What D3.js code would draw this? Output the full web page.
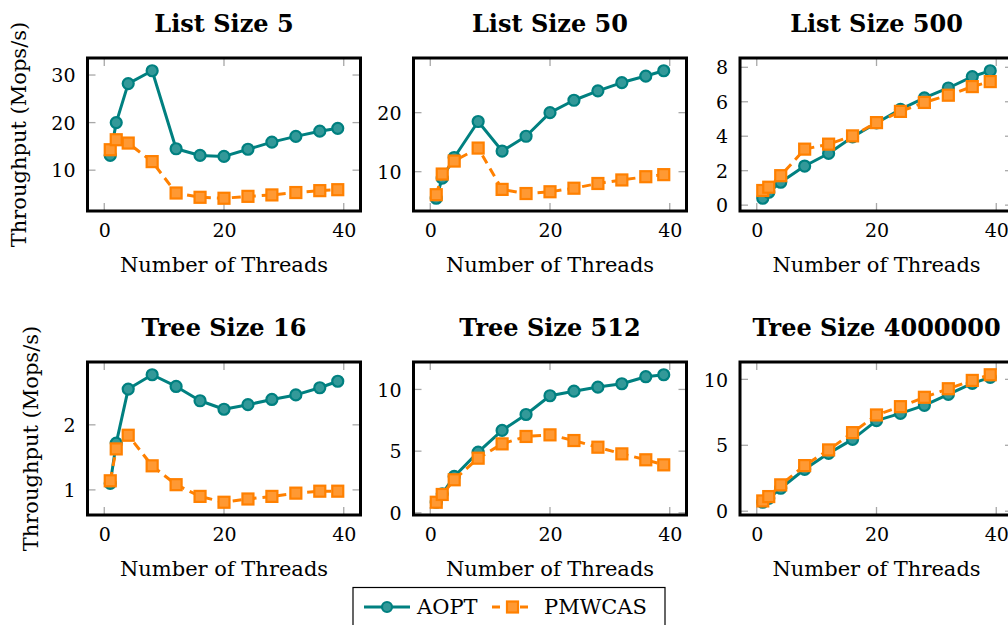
<!DOCTYPE html>
<html><head><meta charset="utf-8">
<script src="https://cdn.jsdelivr.net/npm/d3@7"></script>
<style>
html,body{margin:0;padding:0;background:#fff;overflow:hidden;}
svg{display:block;}
text{font-family:"DejaVu Serif",serif;fill:#000;}
</style></head>
<body>
<svg id="chart" width="1008" height="625"></svg>
<script>
// ---- data ----
const threads = [1, 2, 4, 8, 12, 16, 20, 24, 28, 32, 36, 39];
const xTicks = [0, 20, 40];

const list5Aopt   = [13.1, 20.0, 28.2, 30.9, 14.5, 13.1, 12.9, 14.4, 15.9, 17.1, 18.2, 18.8];
const list5Pmwcas = [14.3, 16.4, 15.7, 11.8, 5.2, 4.3, 4.1, 4.5, 4.8, 5.3, 5.7, 5.9];
const list50Aopt   = [5.5, 8.9, 12.4, 18.5, 13.5, 16.0, 20.0, 22.1, 23.7, 25.1, 26.2, 27.1];
const list50Pmwcas = [6.1, 9.6, 11.8, 14.0, 7.0, 6.3, 6.6, 7.2, 8.0, 8.6, 9.15, 9.5];
const list500Aopt   = [0.4, 0.75, 1.33, 2.27, 3.0, 3.96, 4.77, 5.56, 6.23, 6.8, 7.46, 7.8];
const list500Pmwcas = [0.85, 1.04, 1.71, 3.25, 3.54, 4.02, 4.79, 5.44, 5.96, 6.38, 6.88, 7.17];
const tree16Aopt   = [1.10, 1.72, 2.55, 2.77, 2.59, 2.37, 2.24, 2.31, 2.39, 2.46, 2.57, 2.67];
const tree16Pmwcas = [1.14, 1.63, 1.84, 1.37, 1.08, 0.90, 0.81, 0.86, 0.90, 0.95, 0.98, 0.98];
const tree512Aopt   = [0.86, 1.54, 2.95, 4.92, 6.68, 7.97, 9.49, 9.86, 10.19, 10.46, 11.03, 11.19];
const tree512Pmwcas = [0.86, 1.49, 2.68, 4.43, 5.59, 6.19, 6.32, 5.86, 5.32, 4.78, 4.30, 3.89];
const tree4mAopt   = [0.68, 0.98, 1.74, 3.18, 4.39, 5.45, 6.87, 7.42, 8.03, 8.86, 9.7, 10.15];
const tree4mPmwcas = [0.78, 1.11, 2.0, 3.46, 4.65, 5.96, 7.3, 7.93, 8.64, 9.29, 9.92, 10.35];

const titles = ["List Size 5", "List Size 50", "List Size 500", "Tree Size 16", "Tree Size 512", "Tree Size 4000000"];
const yTicks = [[10, 20, 30], [10, 20], [0, 2, 4, 6, 8], [1, 2], [0, 5, 10], [0, 5, 10]];
const aoptSeries = [list5Aopt, list50Aopt, list500Aopt, tree16Aopt, tree512Aopt, tree4mAopt];
const pmwcasSeries = [list5Pmwcas, list50Pmwcas, list500Pmwcas, tree16Pmwcas, tree512Pmwcas, tree4mPmwcas];
const seriesNames = ["AOPT", "PMWCAS"];
const xLabel = "Number of Threads";
const yLabel = "Throughput (Mops/s)";

// ---- styles ----
const teal = "#008080", tealFill = "#339999";
const orange = "#ff8000", orangeFill = "#ff9933";
const colLeft = [87.5, 413.5, 740];
const rowTop = [58, 362];
const W = 273, H = 153;

const svg = d3.select("#chart");

function enlarge(lo, hi) { const r = hi - lo; return [lo - 0.1 * r, hi + 0.1 * r]; }

for (let i = 0; i < 6; i++) {
  const col = i % 3, row = Math.floor(i / 3);
  const left = colLeft[col], top = rowTop[row];
  const g = svg.append("g").attr("transform", `translate(${left},${top})`);
  const a = aoptSeries[i], p = pmwcasSeries[i];
  const all = a.concat(p);
  const x = d3.scaleLinear().domain(enlarge(d3.min(threads), d3.max(threads))).range([0, W]);
  const y = d3.scaleLinear().domain(enlarge(d3.min(all), d3.max(all))).range([H, 0]);

  // inner ticks (gray), mirrored
  const tl = 8;
  const tickG = g.append("g").attr("stroke", "#a8a8a8").attr("stroke-width", 1.3);
  xTicks.forEach(t => {
    tickG.append("line").attr("x1", x(t)).attr("x2", x(t)).attr("y1", H).attr("y2", H - tl);
    tickG.append("line").attr("x1", x(t)).attr("x2", x(t)).attr("y1", 0).attr("y2", tl);
  });
  yTicks[i].forEach(t => {
    tickG.append("line").attr("x1", 0).attr("x2", tl).attr("y1", y(t)).attr("y2", y(t));
    tickG.append("line").attr("x1", W).attr("x2", W - tl).attr("y1", y(t)).attr("y2", y(t));
  });

  // tick labels via d3 axes (no domain/tick lines)
  const xAx = g.append("g").attr("transform", `translate(0,${H})`)
    .call(d3.axisBottom(x).tickValues(xTicks).tickSize(0).tickPadding(0).tickFormat(d3.format("d")));
  xAx.select(".domain").remove();
  xAx.selectAll("text").attr("font-family", "DejaVu Serif").attr("font-size", 19)
    .attr("fill", "#000").attr("dy", null).attr("y", 26);

  const yAx = g.append("g")
    .call(d3.axisLeft(y).tickValues(yTicks[i]).tickSize(0).tickPadding(0).tickFormat(d3.format("d")));
  yAx.select(".domain").remove();
  yAx.selectAll("text").attr("font-family", "DejaVu Serif").attr("font-size", 19)
    .attr("fill", "#000").attr("x", -12).attr("dy", "0.35em");

  // frame
  g.append("rect").attr("x", 0).attr("y", 0).attr("width", W).attr("height", H)
    .attr("fill", "none").attr("stroke", "#000").attr("stroke-width", 3);

  // title
  g.append("text").attr("x", W / 2).attr("y", -26).attr("text-anchor", "middle")
    .attr("font-size", 24).attr("font-weight", "bold").text(titles[i]);

  // x label
  g.append("text").attr("x", W / 2).attr("y", H + 61).attr("text-anchor", "middle")
    .attr("font-size", 21).text(xLabel);

  // y label on first column
  if (col === 0) {
    let minX = 0;
    yAx.selectAll("text").each(function () { const b = this.getBBox(); minX = Math.min(minX, b.x); });
    const bx = minX - 25;
    g.append("text").attr("transform", `translate(${bx},${H / 2}) rotate(-90)`)
      .attr("text-anchor", "middle").attr("font-size", 21).text(yLabel);
  }

  const line = d3.line().x((d, k) => x(threads[k])).y(d => y(d));
  // AOPT
  g.append("path").datum(a).attr("d", line).attr("fill", "none")
    .attr("stroke", teal).attr("stroke-width", 3).attr("stroke-linejoin", "round");
  g.selectAll(".ca").data(a).enter().append("circle")
    .attr("cx", (d, k) => x(threads[k])).attr("cy", d => y(d)).attr("r", 5.5)
    .attr("fill", tealFill).attr("stroke", teal).attr("stroke-width", 2.2);
  // PMWCAS
  g.append("path").datum(p).attr("d", line).attr("fill", "none")
    .attr("stroke", orange).attr("stroke-width", 3).attr("stroke-dasharray", "9,6");
  const s = 11;
  g.selectAll(".sp").data(p).enter().append("rect")
    .attr("x", (d, k) => x(threads[k]) - s / 2).attr("y", d => y(d) - s / 2)
    .attr("width", s).attr("height", s)
    .attr("fill", orangeFill).attr("stroke", orange).attr("stroke-width", 2.2);
}

// legend
const lg = svg.append("g");
lg.append("rect").attr("x", 353).attr("y", 587.5).attr("width", 312).attr("height", 60)
  .attr("fill", "#fff").attr("stroke", "#000").attr("stroke-width", 1.2);
const ly = 607;
lg.append("line").attr("x1", 364).attr("x2", 410).attr("y1", ly).attr("y2", ly)
  .attr("stroke", teal).attr("stroke-width", 3);
lg.append("circle").attr("cx", 387).attr("cy", ly).attr("r", 5)
  .attr("fill", tealFill).attr("stroke", teal).attr("stroke-width", 2.2);
lg.append("text").attr("x", 417).attr("y", 614).attr("font-size", 21).text(seriesNames[0]);
lg.append("line").attr("x1", 492).attr("x2", 532).attr("y1", ly).attr("y2", ly)
  .attr("stroke", orange).attr("stroke-width", 3).attr("stroke-dasharray", "8,6");
lg.append("rect").attr("x", 507).attr("y", ly - 5.5).attr("width", 11).attr("height", 11)
  .attr("fill", orangeFill).attr("stroke", orange).attr("stroke-width", 2.2);
lg.append("text").attr("x", 544).attr("y", 614).attr("font-size", 21).text(seriesNames[1]);
</script>
</body></html>
